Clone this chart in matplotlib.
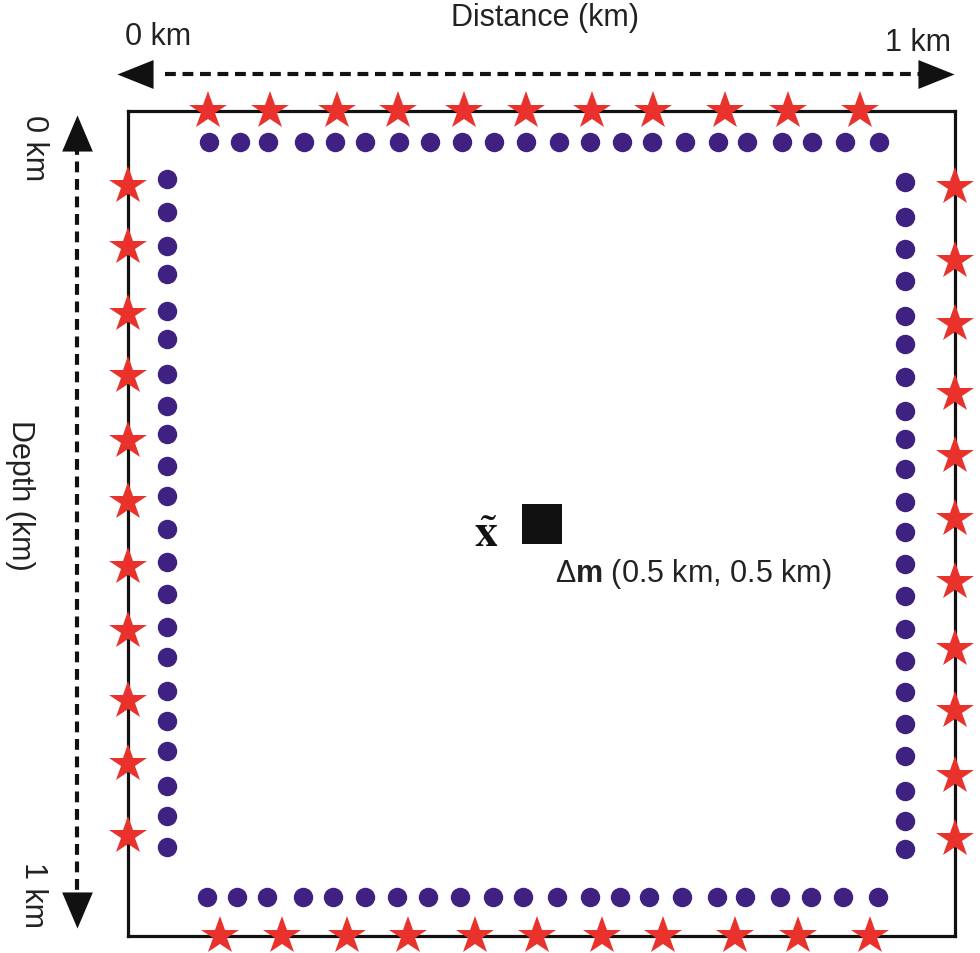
import matplotlib.pyplot as plt

plt.rcParams['font.family'] = ['Liberation Sans', 'DejaVu Sans']
plt.rcParams['mathtext.fontset'] = 'custom'
plt.rcParams['mathtext.rm'] = 'Liberation Sans'
plt.rcParams['mathtext.bf'] = 'Liberation Sans:bold'
plt.rcParams['mathtext.it'] = 'Liberation Sans:italic'

# sources (stars) on the model boundary, positions in km
src_top_x = [0.097, 0.172, 0.253, 0.326, 0.406, 0.481, 0.561, 0.635, 0.722, 0.798, 0.885]
src_bot_x = [0.111, 0.186, 0.265, 0.339, 0.420, 0.495, 0.573, 0.647, 0.734, 0.810, 0.897]
src_left_z = [0.091, 0.165, 0.246, 0.321, 0.400, 0.474, 0.553, 0.630, 0.715, 0.792, 0.879]
src_right_z = [0.092, 0.182, 0.258, 0.343, 0.418, 0.495, 0.571, 0.652, 0.727, 0.806, 0.882]

# receivers (dots) just inside the boundary
rec_top_x = [0.098, 0.135, 0.169, 0.213, 0.250, 0.287, 0.328, 0.365, 0.404, 0.443, 0.481,
             0.521, 0.559, 0.597, 0.634, 0.674, 0.713, 0.748, 0.791, 0.827, 0.867, 0.908]
rec_bot_x = [0.096, 0.132, 0.168, 0.212, 0.248, 0.287, 0.325, 0.363, 0.401, 0.441, 0.478,
             0.519, 0.559, 0.595, 0.630, 0.670, 0.712, 0.746, 0.788, 0.826, 0.865, 0.907]
rec_left_z = [0.082, 0.122, 0.164, 0.198, 0.242, 0.276, 0.319, 0.358, 0.392, 0.430, 0.467,
              0.507, 0.547, 0.585, 0.625, 0.662, 0.703, 0.739, 0.776, 0.818, 0.855, 0.892]
rec_right_z = [0.086, 0.128, 0.167, 0.206, 0.248, 0.282, 0.322, 0.364, 0.398, 0.434, 0.474,
               0.510, 0.549, 0.588, 0.628, 0.667, 0.704, 0.743, 0.782, 0.824, 0.861, 0.895]

src_edge = [0.0, 1.0]            # top / bottom depth, left / right distance
rec_top_z, rec_bot_z = 0.038, 0.953
rec_left_x, rec_right_x = 0.047, 0.940

anomaly = (0.5, 0.5)   # delta m location

star_col = '#E8322B'
dot_col = '#3E2181'

fig = plt.figure(figsize=(9.8, 9.54), dpi=100)
ax = fig.add_axes([128 / 980, 1 - 937 / 954, 827 / 980, 825 / 954])
ax.set_xlim(0, 1)
ax.set_ylim(1, 0)
ax.set_xticks([])
ax.set_yticks([])
for s in ax.spines.values():
    s.set_linewidth(2.3)
    s.set_color('#111111')

star_kw = dict(ls='none', marker='*', ms=29, color=star_col, mew=0, clip_on=False, zorder=4)
dot_kw = dict(ls='none', marker='o', ms=14, color=dot_col, mew=0, clip_on=False, zorder=4)

ax.plot(src_top_x, [src_edge[0]] * len(src_top_x), **star_kw)
ax.plot(src_bot_x, [src_edge[1]] * len(src_bot_x), **star_kw)
ax.plot([src_edge[0]] * len(src_left_z), src_left_z, **star_kw)
ax.plot([src_edge[1]] * len(src_right_z), src_right_z, **star_kw)

ax.plot(rec_top_x, [rec_top_z] * len(rec_top_x), **dot_kw)
ax.plot(rec_bot_x, [rec_bot_z] * len(rec_bot_x), **dot_kw)
ax.plot([rec_left_x] * len(rec_left_z), rec_left_z, **dot_kw)
ax.plot([rec_right_x] * len(rec_right_z), rec_right_z, **dot_kw)

ax.plot([anomaly[0]], [anomaly[1]], ls='none', marker='s', ms=28.5, color='#111111', mew=0)

# dashed double arrows for the axes
arr_kw = dict(color='#111111', lw=3.0, dashes=(2.6, 1.6), clip_on=False, solid_capstyle='butt',
              dash_capstyle='butt')
head_kw = dict(ls='none', color='#111111', ms=26, mew=0, clip_on=False)
tri_left = [(-1, 0), (1, -0.8), (1, 0.8)]
tri_right = [(1, 0), (-1, -0.8), (-1, 0.8)]
tri_up = [(0, 1), (-0.85, -1), (0.85, -1)]
tri_down = [(0, -1), (-0.85, 1), (0.85, 1)]

top_y = -0.045
ax.plot([0.045, 0.965], [top_y, top_y], **arr_kw)
ax.plot([0.009], [top_y], marker=tri_left, **head_kw)
ax.plot([0.977], [top_y], marker=tri_right, **head_kw)

left_x = -0.062
ax.plot([left_x, left_x], [0.040, 0.955], **arr_kw)
ax.plot([left_x], [0.027], marker=tri_up, **head_kw)
ax.plot([left_x], [0.968], marker=tri_down, **head_kw)


def fx(x):
    return x / 980


def fy(y):
    return 1 - y / 954


fs = 22
fig.text(fx(545), fy(18), 'Distance (km)', ha='center', va='center', fontsize=fs, color='#222222')
fig.text(fx(158), fy(37), '0 km', ha='center', va='center', fontsize=fs, color='#222222')
fig.text(fx(918), fy(43), '1 km', ha='center', va='center', fontsize=fs, color='#222222')
fig.text(fx(34), fy(148), '0 km', ha='center', va='center', fontsize=fs, rotation=270, color='#222222')
fig.text(fx(20), fy(495), 'Depth (km)', ha='center', va='center', fontsize=fs, rotation=270, color='#222222')
fig.text(fx(33), fy(895), '1 km', ha='center', va='center', fontsize=fs, rotation=270, color='#222222')

fig.text(fx(486), fy(535), r'$\tilde{\mathbf{x}}$', ha='center', va='center', fontsize=33,
         math_fontfamily='stix', color='#111111')
fig.text(fx(555), fy(582), r'$\Delta\mathbf{m}$ (0.5 km, 0.5 km)', ha='left', va='baseline',
         fontsize=22, color='#222222')

fig.savefig('out.png', dpi=100)
